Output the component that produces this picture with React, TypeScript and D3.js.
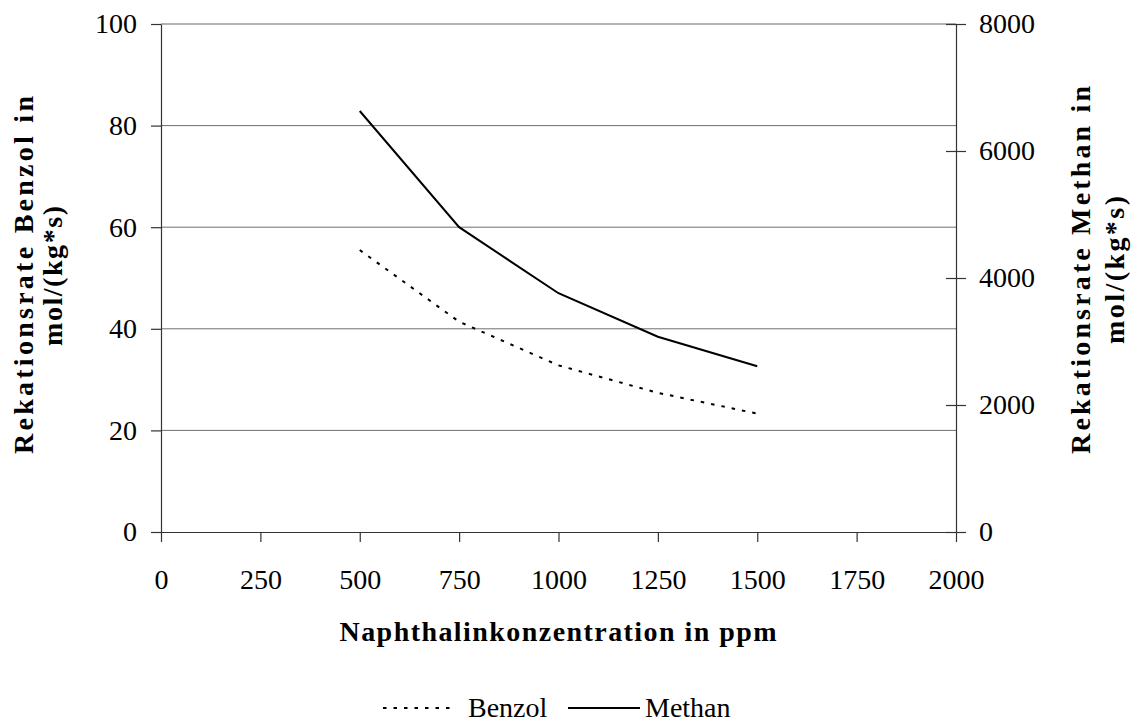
import React, { useEffect, useRef } from 'react';
import * as d3 from 'd3';

// Naphthalinkonzentration (ppm)
const konz = [500, 750, 1000, 1250, 1500];
// Reaktionsrate Benzol, mol/(kg*s) - linke Achse
const benzol = [55.5, 41.4, 32.8, 27.4, 23.3];
// Reaktionsrate Methan, mol/(kg*s) - rechte Achse
const methan = [6630, 4800, 3760, 3075, 2610];

const xTicks = [0, 250, 500, 750, 1000, 1250, 1500, 1750, 2000];
const yLeftTicks = [0, 20, 40, 60, 80, 100];
const yRightTicks = [0, 2000, 4000, 6000, 8000];

const W = 1133;
const H = 722;
const FONT = '"Liberation Serif", "Times New Roman", serif';

const App: React.FC = () => {
  const svgRef = useRef<SVGSVGElement>(null);

  useEffect(() => {
    const svg = d3.select(svgRef.current);
    svg.selectAll('*').remove();

    const margin = { top: 24, left: 161, right: 956, bottom: 532 };
    const fmt = d3.format('d');

    const x = d3.scaleLinear().domain([0, 2000]).range([margin.left, margin.right]);
    const yL = d3.scaleLinear().domain([0, 100]).range([margin.bottom, margin.top]);
    const yR = d3.scaleLinear().domain([0, 8000]).range([margin.bottom, margin.top]);

    // gitternetz
    svg.append('g')
      .selectAll('line')
      .data(yLeftTicks.filter(d => d > 0))
      .join('line')
      .attr('x1', margin.left)
      .attr('x2', margin.right)
      .attr('y1', d => yL(d))
      .attr('y2', d => yL(d))
      .attr('stroke', d => (d === 100 ? '#9a9a9a' : '#6e6e6e'))
      .attr('stroke-width', d => (d === 100 ? 1.5 : 1));

    const styleAxis = (g: d3.Selection<SVGGElement, unknown, null, undefined>) => {
      g.select('.domain').attr('stroke', '#333').attr('stroke-width', 1.2);
      g.selectAll('.tick line').attr('stroke', '#333').attr('stroke-width', 1.2);
      g.selectAll('.tick text')
        .attr('fill', '#000')
        .style('font-family', FONT)
        .style('font-size', '28px');
    };

    // x-achse
    const gx = svg.append('g')
      .attr('transform', `translate(0,${margin.bottom})`)
      .call(d3.axisBottom(x).tickValues(xTicks).tickFormat(fmt as any)
        .tickSize(10).tickPadding(27).tickSizeOuter(0));
    styleAxis(gx);

    // linke achse
    const gl = svg.append('g')
      .attr('transform', `translate(${margin.left},0)`)
      .call(d3.axisLeft(yL).tickValues(yLeftTicks).tickFormat(fmt as any)
        .tickSize(10).tickPadding(14).tickSizeOuter(0));
    styleAxis(gl);

    // rechte achse (ticks kreuzen)
    const gr = svg.append('g')
      .attr('transform', `translate(${margin.right},0)`)
      .call(d3.axisRight(yR).tickValues(yRightTicks).tickFormat(fmt as any)
        .tickSize(10).tickPadding(13).tickSizeOuter(0));
    gr.selectAll('.tick line').attr('x1', -10).attr('x2', 10);
    styleAxis(gr);

    // linien
    const lineB = d3.line<number>()
      .x((_, i) => x(konz[i]))
      .y(d => yL(d));
    const lineM = d3.line<number>()
      .x((_, i) => x(konz[i]))
      .y(d => yR(d));

    svg.append('path')
      .datum(benzol)
      .attr('d', lineB)
      .attr('fill', 'none')
      .attr('stroke', '#000')
      .attr('stroke-width', 2)
      .attr('stroke-dasharray', '3.5,7');

    svg.append('path')
      .datum(methan)
      .attr('d', lineM)
      .attr('fill', 'none')
      .attr('stroke', '#000')
      .attr('stroke-width', 2);

    // achsentitel
    const title = (txt: string, tx: number, ty: number, rot: number, len: number) =>
      svg.append('text')
        .attr('transform', `translate(${tx},${ty}) rotate(${rot})`)
        .attr('text-anchor', 'middle')
        .attr('textLength', len)
        .attr('lengthAdjust', 'spacing')
        .style('font-family', FONT)
        .style('font-size', '28px')
        .style('font-weight', 'bold')
        .text(txt);

    title('Naphthalinkonzentration in ppm', 558, 641, 0, 437);
    title('Rekationsrate Benzol in', 33, 275, -90, 358);
    title('mol/(kg*s)', 62, 276, -90, 140);
    title('Rekationsrate Methan in', 1090, 270, -90, 368);
    title('mol/(kg*s)', 1124, 270, -90, 148);

    // legende
    const leg = svg.append('g');
    leg.append('line')
      .attr('x1', 383).attr('x2', 452)
      .attr('y1', 708).attr('y2', 708)
      .attr('stroke', '#000').attr('stroke-width', 2)
      .attr('stroke-dasharray', '3.5,7');
    leg.append('text')
      .attr('x', 468).attr('y', 717)
      .style('font-family', FONT).style('font-size', '28px')
      .text('Benzol');
    leg.append('line')
      .attr('x1', 568).attr('x2', 640)
      .attr('y1', 708).attr('y2', 708)
      .attr('stroke', '#000').attr('stroke-width', 2);
    leg.append('text')
      .attr('x', 645).attr('y', 717)
      .style('font-family', FONT).style('font-size', '28px')
      .text('Methan');
  }, []);

  return (
    <svg
      ref={svgRef}
      width={W}
      height={H}
      style={{ position: 'absolute', left: 0, top: 0, background: '#fff' }}
    />
  );
};

export default App;
